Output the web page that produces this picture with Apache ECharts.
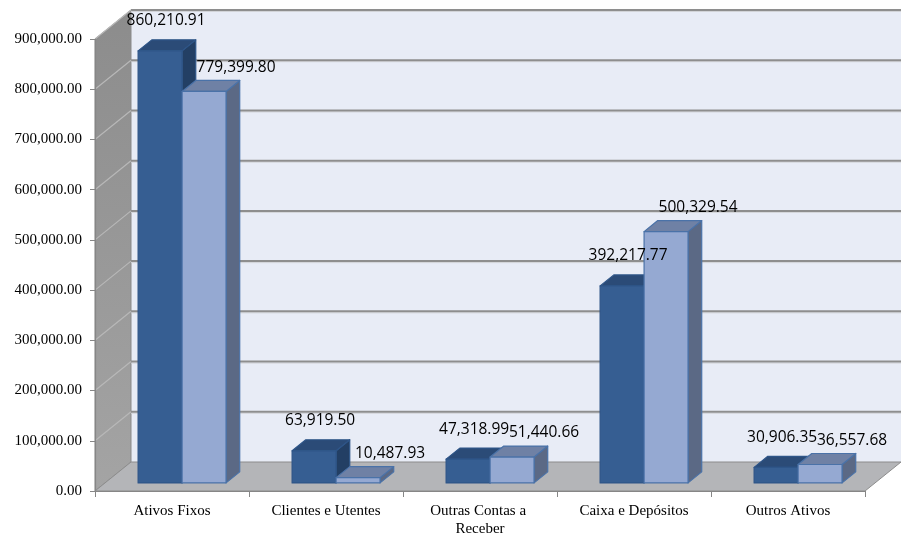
<!DOCTYPE html>
<html>
<head>
<meta charset="utf-8">
<script src="https://cdn.jsdelivr.net/npm/echarts@6/dist/echarts.min.js"></script>
<style>html,body{margin:0;padding:0;background:#fff}#c{width:904px;height:538px}</style>
</head>
<body>
<div id="c"></div>
<script>
const categories = ["Ativos Fixos", "Clientes e Utentes", "Outras Contas a Receber", "Caixa e Depósitos", "Outros Ativos"];
const series1 = [860210.91, 63919.50, 47318.99, 392217.77, 30906.35];
const series2 = [779399.80, 10487.93, 51440.66, 500329.54, 36557.68];
const yTicks = [0, 100000, 200000, 300000, 400000, 500000, 600000, 700000, 800000, 900000];

const DX = 36, DY = -29;          // depth of the 3D box
const F0 = 0.28, F1 = 0.66;       // bar depth range (fraction)
const GROUP = 0.571;              // group width / band

function fmt(v) {
  const neg = v < 0; v = Math.abs(v);
  let s = v.toFixed(2);
  let [ip, dp] = s.split('.');
  ip = ip.replace(/\B(?=(\d{3})+(?!\d))/g, ',');
  return (neg ? '-' : '') + ip + '.' + dp;
}

const colors = [
  {front: '#365E92', top: '#2B4B77', side: '#233F64', stroke: '#2E5588'},
  {front: '#95A9D2', top: '#6F81A5', side: '#5B6985', stroke: '#4A72A8'}
];

function wallsRender(params, api) {
  const cs = params.coordSys;
  const x0 = cs.x, x1 = cs.x + cs.width;
  const yb = api.coord([0, yTicks[0]])[1];
  const yt = api.coord([0, yTicks[yTicks.length - 1]])[1];
  const ch = [];
  ch.push({type: 'polygon', shape: {points: [[x0+DX, yt+DY], [x1+DX, yt+DY], [x1+DX, yb+DY], [x0+DX, yb+DY]]},
    style: {fill: '#E8ECF6'}});
  ch.push({type: 'polygon', shape: {points: [[x0, yb], [x0, yt], [x0+DX, yt+DY], [x0+DX, yb+DY]]},
    style: {fill: new echarts.graphic.LinearGradient(0, 0, 0, 1, [{offset: 0, color: '#8C8C8C'}, {offset: 1, color: '#A4A4A4'}]), stroke: '#8A8A8A', lineWidth: 1}});
  ch.push({type: 'polygon', shape: {points: [[x0, yb], [x1, yb], [x1+DX, yb+DY], [x0+DX, yb+DY]]},
    style: {fill: '#B4B5B8', stroke: '#8C8C8C', lineWidth: 1}});
  yTicks.forEach(function (t) {
    const y = api.coord([0, t])[1];
    if (t !== 0) {
      ch.push({type: 'line', shape: {x1: x0+DX, y1: y+DY+1.5, x2: x1+DX, y2: y+DY+1.5}, style: {stroke: '#D2D4D8', lineWidth: 1}});
      ch.push({type: 'line', shape: {x1: x0+DX, y1: y+DY, x2: x1+DX, y2: y+DY}, style: {stroke: '#8E8E8E', lineWidth: 2}});
      ch.push({type: 'line', shape: {x1: x0, y1: y, x2: x0+DX, y2: y+DY}, style: {stroke: '#B8B8B8', lineWidth: 1.2}});
    }
  });
  return {type: 'group', children: ch};
}

function geom(s, api) {
  const i = api.value(0), v = api.value(1);
  const p = api.coord([i, v]);
  const p0 = api.coord([i, 0]);
  const band = api.size([1, 0])[0];
  const gw = band * GROUP, bw = gw / 2;
  const fx = DX * F0, fy = DY * F0;
  const x0 = p[0] + fx - gw / 2 + s * bw;
  return {v: v, x0: x0, x1: x0 + bw, bw: bw, yT: p[1] + fy, yB: p0[1] + fy};
}

function barRender(s) {
  return function (params, api) {
    const g = geom(s, api);
    const ddx = DX * (F1 - F0), ddy = DY * (F1 - F0);
    const c = colors[s];
    const st = {stroke: c.stroke, lineWidth: 1.2, lineJoin: 'round'};
    const x0 = g.x0, x1 = g.x1, yT = g.yT, yB = g.yB;
    return {type: 'group', children: [
      {type: 'polygon', shape: {points: [[x1, yT], [x1+ddx, yT+ddy], [x1+ddx, yB+ddy], [x1, yB]]}, style: Object.assign({fill: c.side}, st)},
      {type: 'polygon', shape: {points: [[x0, yT], [x1, yT], [x1+ddx, yT+ddy], [x0+ddx, yT+ddy]]}, style: Object.assign({fill: c.top}, st)},
      {type: 'rect', shape: {x: x0, y: yT, width: g.bw, height: yB - yT}, style: Object.assign({fill: c.front}, st)}
    ]};
  };
}

function labelRender(s) {
  return function (params, api) {
    const g = geom(s, api);
    const cx = (g.x0 + g.x1) / 2;
    const lab = s === 0 ? [cx + 6, g.yT - 30] : [cx + 32, g.yT - 24];
    return {type: 'text', style: {text: fmt(g.v), x: lab[0], y: lab[1], align: 'center', verticalAlign: 'middle',
      font: '15.5px "Open Sans", sans-serif', fill: '#000'}};
  };
}

const chart = echarts.init(document.getElementById('c'), null, {renderer: 'canvas'});
chart.setOption({
  animation: false,
  grid: {left: 95, right: 39, top: 39, bottom: 47, containLabel: false},
  xAxis: {
    type: 'category', data: categories, boundaryGap: true,
    axisLine: {show: true, lineStyle: {color: '#868686', width: 1.2}},
    axisTick: {show: true, length: 6, lineStyle: {color: '#868686'}},
    axisLabel: {margin: 11, color: '#000', fontFamily: '"Liberation Serif", serif', fontSize: 15, width: 130, overflow: 'break', lineHeight: 18, interval: 0},
    splitLine: {show: false}, z: 10
  },
  yAxis: {
    type: 'value', min: 0, max: 900000, interval: 100000,
    axisLine: {show: true, lineStyle: {color: '#868686', width: 1.2}},
    axisTick: {show: true, length: 5, lineStyle: {color: '#868686'}},
    axisLabel: {margin: 13, color: '#000', fontFamily: '"Liberation Serif", serif', fontSize: 15, formatter: function (v) { return fmt(v); }},
    splitLine: {show: false}, z: 10
  },
  series: [
    {type: 'custom', name: 'walls', data: [[0, 0]], renderItem: wallsRender, clip: false, z: 1, silent: true},
    {type: 'custom', name: 'S1', data: series1.map((v, i) => [i, v]), renderItem: barRender(0), clip: false, z: 2},
    {type: 'custom', name: 'S2', data: series2.map((v, i) => [i, v]), renderItem: barRender(1), clip: false, z: 3},
    {type: 'custom', name: 'L1', data: series1.map((v, i) => [i, v]), renderItem: labelRender(0), clip: false, z: 6, silent: true},
    {type: 'custom', name: 'L2', data: series2.map((v, i) => [i, v]), renderItem: labelRender(1), clip: false, z: 6, silent: true}
  ]
});
</script>
</body>
</html>
